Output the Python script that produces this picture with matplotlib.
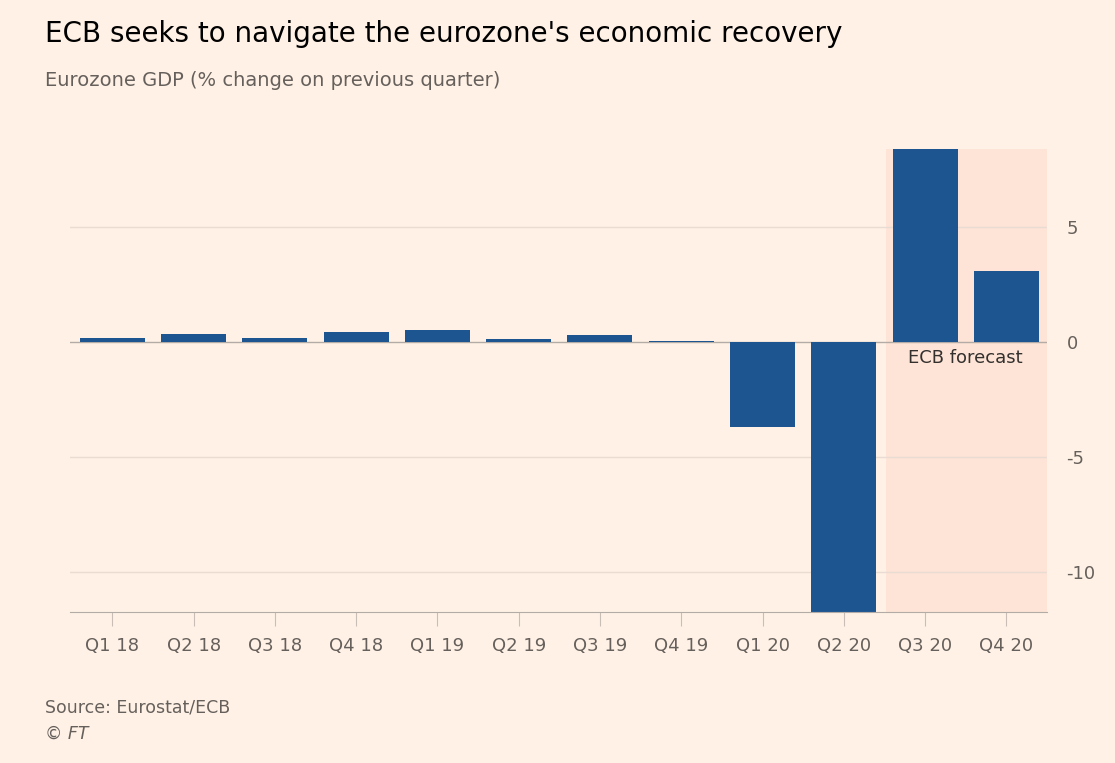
import matplotlib
matplotlib.use("Agg")
import matplotlib.pyplot as plt

quarters = ["Q1 18","Q2 18","Q3 18","Q4 18","Q1 19","Q2 19","Q3 19","Q4 19","Q1 20","Q2 20","Q3 20","Q4 20"]
gdp = [0.17, 0.35, 0.15, 0.45, 0.5, 0.13, 0.3, 0.05, -3.7, -12.1, 8.4, 3.1]
yticks = [-10, -5, 0, 5]

bg = "#FFF1E5"
fig = plt.figure(figsize=(11.15, 7.63), dpi=100, facecolor=bg)
ax = fig.add_axes([0.0628, 0.198, 0.8762, 0.607], facecolor=bg)
x = list(range(len(quarters)))
ax.axvspan(9.52, 11.5, color="#FDE4D6", zorder=0, lw=0)
for t in yticks:
    if t != 0:
        ax.axhline(t, color="#E9DCD2", lw=1, zorder=1)
ax.axhline(0, color="#B3ABA5", lw=1, zorder=1)
ax.bar(x, gdp, width=0.8, color="#1D5590", zorder=2)
ax.set_xlim(-0.52, 11.5)
ax.set_ylim(-11.75, 8.4)
ax.set_xticks(x)
ax.set_xticklabels(quarters, fontsize=13, color="#66605C")
ax.set_yticks(yticks)
ax.set_yticklabels([str(t) for t in yticks], fontsize=13, color="#66605C")
ax.yaxis.tick_right()
ax.tick_params(axis="y", length=0, pad=14)
ax.tick_params(axis="x", length=10, color="#C8BEB6", pad=8)
for s in ["top", "right", "left"]:
    ax.spines[s].set_visible(False)
ax.spines["bottom"].set_color("#B3ABA5")
ax.text(10.5, -0.7, "ECB forecast", ha="center", va="center", fontsize=13, color="#33302E", zorder=3)

fig.text(0.04, 0.955, "ECB seeks to navigate the eurozone's economic recovery", fontsize=20, color="#000000", va="center")
fig.text(0.04, 0.895, "Eurozone GDP (% change on previous quarter)", fontsize=14, color="#66605C", va="center")
fig.text(0.04, 0.073, "Source: Eurostat/ECB", fontsize=12.5, color="#66605C", va="center")
fig.text(0.04, 0.038, "© FT", fontsize=12.5, color="#66605C", va="center", style="italic")
fig.savefig("out.png", dpi=100, facecolor=bg)
